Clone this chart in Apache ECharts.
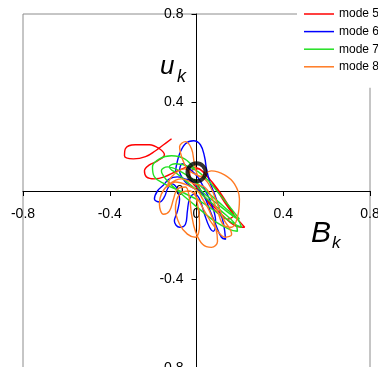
<!DOCTYPE html>
<html>
<head>
<meta charset="utf-8">
<script src="https://cdn.jsdelivr.net/npm/echarts@6/dist/echarts.min.js"></script>
<style>
  html, body { margin: 0; padding: 0; background: #fff; }
  #chart { width: 378px; height: 367px; }
</style>
</head>
<body>
<div id="chart"></div>
<script>
/* --------------------------------------------------  Data  -------------------------------------------------- */
const modeNames = ['mode 5', 'mode 6', 'mode 7', 'mode 8'];
const modeColors = ['#ff0000', '#0000ff', '#22e022', '#ff7a22'];

// trajectories (B_k, u_k)
const mode5 = [
  [-0.115, 0.236], [-0.152, 0.209], [-0.189, 0.182], [-0.235, 0.155], [-0.291, 0.145],
  [-0.332, 0.159], [-0.328, 0.191], [-0.282, 0.209], [-0.217, 0.209], [-0.171, 0.191],
  [-0.148, 0.164], [-0.180, 0.136], [-0.217, 0.118], [-0.240, 0.091], [-0.231, 0.064],
  [-0.194, 0.055], [-0.148, 0.064], [-0.088, 0.091], [-0.032, 0.109], [0.014, 0.100],
  [0.060, 0.055], [0.097, 0], [0.129, -0.050], [0.162, -0.095], [0.189, -0.127],
  [0.222, -0.164], [0.175, -0.155], [0.115, -0.105], [0.060, -0.050], [0.014, 0],
  [-0.023, 0.045], [-0.032, 0.082], [0.005, 0.100], [0.050, 0.064], [0.097, 0.009],
  [0.143, -0.059], [0.171, -0.109], [0.143, -0.127], [0.088, -0.091], [0.037, -0.027],
  [0.005, 0.032],
];
const mode6 = [
  [-0.097, 0.091], [-0.078, 0.168], [-0.051, 0.214], [-0.014, 0.227], [0.018, 0.209],
  [0.037, 0.155], [0.046, 0.100], [0.060, 0.045], [0.083, -0.014], [0.106, -0.082],
  [0.125, -0.150], [0.134, -0.218], [0.115, -0.209], [0.088, -0.150], [0.060, -0.082],
  [0.037, -0.027], [0.014, 0.009], [-0.023, 0.045], [-0.055, 0.055], [-0.088, 0.064],
  [-0.125, 0.055], [-0.152, 0.027], [-0.180, 0], [-0.194, -0.036], [-0.171, -0.050],
  [-0.148, -0.027], [-0.134, 0.009], [-0.115, 0.032], [-0.088, 0.009], [-0.078, -0.036],
  [-0.088, -0.091], [-0.102, -0.136], [-0.078, -0.164], [-0.051, -0.150], [-0.042, -0.091],
  [-0.032, -0.036], [-0.009, -0.014], [0.014, -0.036], [0.037, -0.105], [0.060, -0.164],
  [0.078, -0.182], [0.088, -0.136], [0.069, -0.059], [0.037, 0.009], [0.005, 0.064],
  [-0.032, 0.100], [-0.065, 0.123], [-0.078, 0.091], [-0.055, 0.045], [-0.023, 0.018],
  [0.014, 0],
];
const mode7 = [
  [-0.009, 0.100], [-0.055, 0.145], [-0.115, 0.159], [-0.171, 0.145], [-0.203, 0.109],
  [-0.194, 0.064], [-0.148, 0.032], [-0.078, 0], [0.014, -0.045], [0.106, -0.105],
  [0.175, -0.150], [0.208, -0.164], [0.189, -0.127], [0.129, -0.073], [0.060, -0.014],
  [-0.009, 0.045], [-0.078, 0.091], [-0.134, 0.109], [-0.162, 0.091], [-0.134, 0.045],
  [-0.069, -0.014], [0.014, -0.082], [0.083, -0.136], [0.152, -0.173], [0.189, -0.182],
  [0.180, -0.150], [0.115, -0.091], [0.037, -0.027], [-0.032, 0.032], [-0.088, 0.077],
  [-0.125, 0.109], [-0.097, 0.123], [-0.032, 0.109], [0.037, 0.064], [0.106, -0.014],
  [0.162, -0.082], [0.198, -0.127], [0.175, -0.118], [0.097, -0.059], [0.014, 0.009],
  [-0.009, 0.055],
];
const mode8 = [
  [-0.032, 0.077], [-0.065, 0.145], [-0.078, 0.200], [-0.051, 0.223], [-0.023, 0.191],
  [-0.009, 0.123], [0.014, 0.064], [0.069, 0.091], [0.129, 0.073], [0.175, 0.032],
  [0.198, -0.036], [0.189, -0.118], [0.162, -0.164], [0.125, -0.155], [0.097, -0.091],
  [0.069, -0.027], [0.037, 0.018], [-0.009, 0.032], [-0.069, 0.055], [-0.125, 0.032],
  [-0.162, -0.014], [-0.171, -0.059], [-0.152, -0.105], [-0.125, -0.091], [-0.106, -0.036],
  [-0.088, 0.009], [-0.051, 0.018], [-0.032, -0.036], [-0.023, -0.105], [-0.005, -0.182],
  [0.028, -0.241], [0.069, -0.255], [0.097, -0.227], [0.088, -0.164], [0.060, -0.091],
  [0.028, -0.036], [0.005, 0], [-0.042, 0.027], [-0.097, 0.041], [-0.134, 0.018],
  [-0.115, 0.064], [-0.055, 0.100], [-0.009, 0.077], [0.037, 0.055], [0.069, 0.009],
  [0.097, -0.059], [0.125, -0.127], [0.162, -0.195], [0.134, -0.209], [0.078, -0.155],
  [0.037, -0.091], [0.005, -0.036], [-0.032, 0], [-0.078, -0.014], [-0.097, -0.082],
  [-0.078, -0.150], [-0.042, -0.195], [-0.005, -0.209], [0.014, -0.150], [0.005, -0.059],
  [-0.009, 0],
];
const modeData = [mode5, mode6, mode7, mode8];

// fixed point marked by the black ring
const fixedPoint = [[0, 0.085]];

const axisMin = -0.8;
const axisMax = 0.8;
const axisStep = 0.4;

/* --------------------------------------------------  Layout  -------------------------------------------------- */
const gridLeft = 23;
const gridTop = 14;
const gridW = 347;
const gridH = 354;
// axes cross at the origin, shifted in from the grid edges
const xAxisShift = -(gridH / 2);
const yAxisShift = -(gridW / 2);

/* --------------------------------------------------  Chart  -------------------------------------------------- */
const font = 'Liberation Sans, Arial, sans-serif';
const chart = echarts.init(document.getElementById('chart'), null, { renderer: 'canvas' });

const lineSeries = modeNames.map((name, i) => ({
  name,
  type: 'line',
  data: modeData[i],
  smooth: 0.4,
  symbol: 'none',
  lineStyle: { color: modeColors[i], width: 1.4 },
  itemStyle: { color: modeColors[i] },
  z: 2,
}));

const axisCommon = {
  type: 'value',
  min: axisMin,
  max: axisMax,
  interval: axisStep,
  splitLine: { show: false },
  axisLine: { onZero: false, lineStyle: { color: '#000', width: 1 } },
  axisTick: { show: true, length: 5, lineStyle: { color: '#000' } },
  axisLabel: {
    color: '#000',
    fontSize: 14,
    fontFamily: font,
    showMinLabel: true,
    showMaxLabel: true,
    formatter: (v) => String(Math.round(v * 10) / 10),
  },
};

chart.setOption({
  animation: false,
  backgroundColor: '#fff',
  grid: {
    left: gridLeft,
    top: gridTop,
    width: gridW,
    height: gridH,
    outerBoundsMode: 'none',
    show: true,
    borderColor: '#8c8c8c',
    borderWidth: 1,
    backgroundColor: 'transparent',
  },
  xAxis: {
    ...axisCommon,
    position: 'bottom',
    offset: xAxisShift,
    axisLabel: { ...axisCommon.axisLabel, margin: 16 },
  },
  yAxis: {
    ...axisCommon,
    position: 'left',
    offset: yAxisShift,
    axisLabel: { ...axisCommon.axisLabel, margin: 13 },
  },
  legend: {
    data: modeNames.map((name) => ({ name, icon: 'rect' })),
    orient: 'vertical',
    left: 297,
    top: 0,
    padding: [7, 10, 14, 7],
    itemWidth: 30,
    itemHeight: 1.5,
    itemGap: 3.6,
    backgroundColor: '#fff',
    textStyle: { color: '#000', fontSize: 12, lineHeight: 14, fontFamily: font },
    z: 10,
  },
  graphic: [
    { type: 'text', z: 20, style: { text: 'u', x: 160, y: 67, font: 'italic 26px ' + font, fill: '#000', textAlign: 'left', textVerticalAlign: 'middle' } },
    { type: 'text', z: 20, style: { text: 'k', x: 177, y: 76.5, font: 'italic 18px ' + font, fill: '#000', textAlign: 'left', textVerticalAlign: 'middle' } },
    { type: 'text', z: 20, style: { text: 'B', x: 311, y: 234, font: 'italic 30px ' + font, fill: '#000', textAlign: 'left', textVerticalAlign: 'middle' } },
    { type: 'text', z: 20, style: { text: 'k', x: 332, y: 243, font: 'italic 17px ' + font, fill: '#000', textAlign: 'left', textVerticalAlign: 'middle' } },
  ],
  series: [
    ...lineSeries,
    {
      name: 'fixed point',
      type: 'scatter',
      data: fixedPoint,
      symbol: 'circle',
      symbolSize: 18,
      itemStyle: { color: 'rgba(0,0,0,0)', borderColor: '#000', borderWidth: 4 },
      z: 5,
    },
  ],
});
</script>
</body>
</html>
